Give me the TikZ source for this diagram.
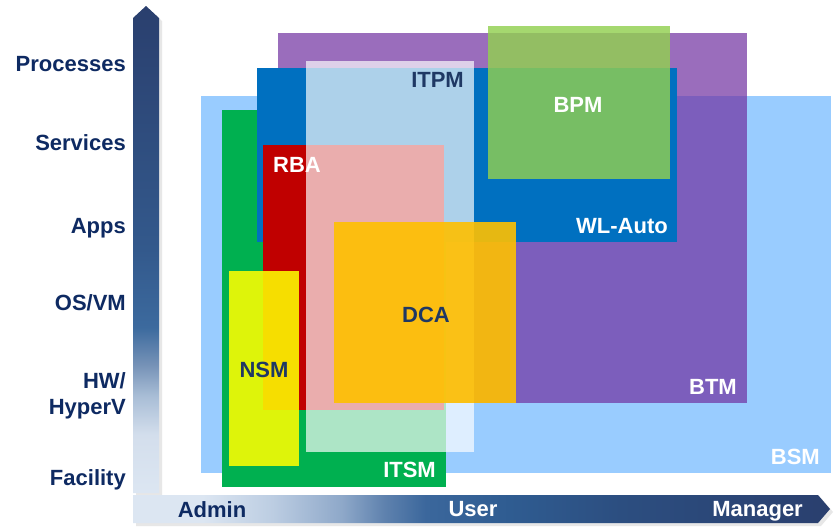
\documentclass[tikz,border=0pt]{standalone}
\usepackage{fontspec}
\setmainfont{Liberation Sans}
\usepackage{xcolor}
\usepackage{tikz}
\definecolor{navy}{HTML}{0E2A62}
\definecolor{darkbl}{HTML}{1F3864}
\definecolor{bsmblue}{HTML}{99CCFF}
\definecolor{btmpurple}{HTML}{7030A0}
\definecolor{itsmgreen}{HTML}{00B050}
\definecolor{wlblue}{HTML}{0070C0}
\definecolor{rbared}{HTML}{C00000}
\definecolor{bpmgreen}{HTML}{92D050}
\definecolor{dcaorange}{HTML}{FFC000}
\definecolor{nsmyellow}{HTML}{FFFF00}
\definecolor{axa}{HTML}{DCE6F2}
\definecolor{axb}{HTML}{D3DEEC}
\definecolor{axc}{HTML}{A8BDD6}
\definecolor{axd}{HTML}{7894B8}
\definecolor{axe}{HTML}{3C6A9E}
\definecolor{axf}{HTML}{33598C}
\definecolor{axg}{HTML}{2A3F6E}
\definecolor{hxb}{HTML}{BCCDE2}
\definecolor{hxc}{HTML}{8EA8C9}
\definecolor{hxd}{HTML}{5F82AE}
\definecolor{hxe}{HTML}{3B679C}
\definecolor{hxf}{HTML}{2F5C91}
\definecolor{hxg}{HTML}{2C4E80}
\pgfdeclareverticalshading{vaxis}{100bp}{color(0bp)=(axa); color(25bp)=(axa); color(31bp)=(axb); color(35bp)=(axc); color(38bp)=(axd); color(42bp)=(axe); color(50bp)=(axf); color(75bp)=(axg); color(100bp)=(axg)}
\pgfdeclarehorizontalshading{haxis}{100bp}{color(0bp)=(axa); color(30bp)=(axa); color(35bp)=(hxb); color(40bp)=(hxc); color(43bp)=(hxd); color(46bp)=(hxe); color(52bp)=(hxf); color(60bp)=(hxg); color(75bp)=(axg); color(100bp)=(axg)}

\begin{document}
\begin{tikzpicture}[x=1pt,y=-1pt,
  lbl/.style={font=\fontsize{22}{26}\selectfont\bfseries,text=navy,inner sep=0pt},
  axlbl/.style={lbl,anchor=base east,align=right},
  dklbl/.style={lbl,text=darkbl},
  wtlbl/.style={lbl,text=white},
  shadow/.style={fill=black!30,opacity=.3}]
\useasboundingbox (0,0) rectangle (840,531);
\fill[white] (0,0) rectangle (840,531);
\fill[shadow] (136,21)--(149,9)--(162,21)--(162,496)--(136,496)--cycle;
\shade[shading=vaxis] (133,18)--(146,6)--(159,18)--(159,493)--(133,493)--cycle;
\fill[shadow] (136,498)--(821,498)--(833,512)--(821,526)--(136,526)--cycle;
\shade[shading=haxis] (133,495)--(818,495)--(830,509)--(818,523)--(133,523)--cycle;
\fill[bsmblue] (201,96) rectangle (831,473);
\fill[btmpurple,opacity=.7] (278,33) rectangle (747,403);
\fill[itsmgreen] (222,110) rectangle (446,487);
\fill[wlblue] (257,68) rectangle (677,242);
\fill[rbared] (263,145) rectangle (444,410);
\fill[white,opacity=.68] (306,61) rectangle (474,452);
\fill[bpmgreen,opacity=.82] (488,26) rectangle (670,179);
\fill[dcaorange,opacity=.9] (334,222) rectangle (516,403);
\fill[nsmyellow,opacity=.87] (229,271) rectangle (299,466);
\node[axlbl] (proc) at (126,71) {Processes};
\node[axlbl] (serv) at (126,150) {Services};
\node[axlbl] (apps) at (126,233) {Apps};
\node[axlbl] (osvm) at (126,310) {OS/VM};
\node[axlbl] (hw) at (126,414) {HW/\\HyperV};
\node[axlbl] (fac) at (126,485) {Facility};
\node[dklbl,anchor=base east] (itpm) at (464,87) {ITPM};
\node[wtlbl,anchor=base] (bpm) at (578,112) {BPM};
\node[wtlbl,anchor=base west] (rba) at (273,172) {RBA};
\node[wtlbl,anchor=base east] (wlauto) at (668,233) {WL-Auto};
\node[dklbl,anchor=base] (dca) at (426,322) {DCA};
\node[dklbl,anchor=base] (nsm) at (264,377) {NSM};
\node[wtlbl,anchor=base east] (btm) at (737,394) {BTM};
\node[wtlbl,anchor=base east] (bsm) at (820,464) {BSM};
\node[wtlbl,anchor=base east] (itsm) at (436,477) {ITSM};
\node[lbl,anchor=base] (admin) at (212,517) {Admin};
\node[wtlbl,anchor=base] (user) at (473,516) {User};
\node[wtlbl,anchor=base east] (mgr) at (803,516) {Manager};
\end{tikzpicture}
\end{document}
